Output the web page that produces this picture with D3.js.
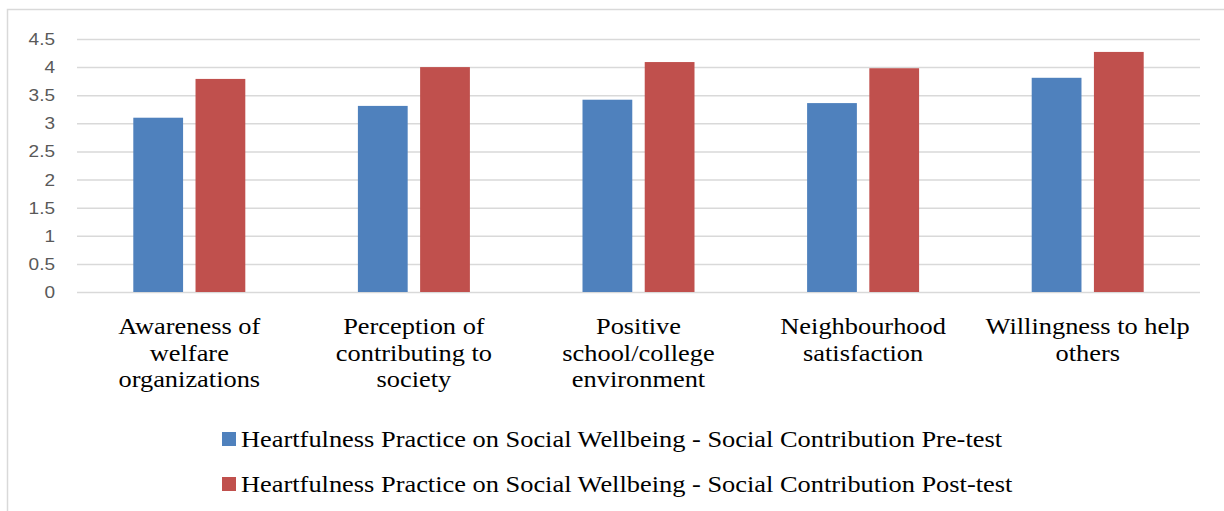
<!DOCTYPE html>
<html>
<head>
<meta charset="utf-8">
<script src="https://cdn.jsdelivr.net/npm/d3@7"></script>
<style>
  html, body { margin: 0; padding: 0; background: #fff; }
  svg { display: block; }
</style>
</head>
<body>
<svg id="chart" width="1224" height="511"></svg>
<script>
// categories, drawn as wrapped tick labels
const categories = [
  "Awareness of welfare organizations",
  "Perception of contributing to society",
  "Positive school/college environment",
  "Neighbourhood satisfaction",
  "Willingness to help others",
];
const categoryLines = [
  ["Awareness of", "welfare", "organizations"],
  ["Perception of", "contributing to", "society"],
  ["Positive", "school/college", "environment"],
  ["Neighbourhood", "satisfaction"],
  ["Willingness to help", "others"],
];
const seriesNames = [
  "Heartfulness Practice on Social Wellbeing - Social Contribution Pre-test",
  "Heartfulness Practice on Social Wellbeing - Social Contribution Post-test",
];
const preTest = [3.10, 3.31, 3.42, 3.36, 3.81];
const postTest = [3.79, 4.00, 4.09, 3.98, 4.27];
const yTicks = [0, 0.5, 1, 1.5, 2, 2.5, 3, 3.5, 4, 4.5];
const colors = ["#4F81BD", "#C0504D"];

const SERIF = "Liberation Serif";
const SANS = "Liberation Sans";
// the source picture is a bit wider than tall, so text gets stretched sideways
const SX = 1.1;

const svg = d3.select("#chart");

// outer chart frame (cut off on right and bottom, like the original)
svg.append("rect")
  .attr("x", 7.5).attr("y", 9.5)
  .attr("width", 1300).attr("height", 600)
  .attr("fill", "none")
  .attr("stroke", "#d9d9d9")
  .attr("stroke-width", 1.5);

const plot = { left: 77, right: 1200, top: 39, bottom: 292 };

const x0 = d3.scaleBand()
  .domain(categories)
  .range([plot.left, plot.right])
  .paddingInner(0)
  .paddingOuter(0);

const groupWidth = 112;
const x1 = d3.scaleBand()
  .domain([0, 1])
  .range([(x0.bandwidth() - groupWidth) / 2, (x0.bandwidth() + groupWidth) / 2])
  .paddingInner(0.2);

const y = d3.scaleLinear().domain([0, 4.5]).range([plot.bottom, plot.top]);

// gridlines + y labels
const yAxis = d3.axisLeft(y)
  .tickValues(yTicks)
  .tickSize(-(plot.right - plot.left))
  .tickFormat(d3.format("~g"));

const yG = svg.append("g")
  .attr("transform", `translate(${plot.left},0)`)
  .call(yAxis);
yG.select(".domain").remove();
yG.selectAll(".tick line")
  .attr("stroke", "#d9d9d9")
  .attr("stroke-width", 1.5);
yG.selectAll(".tick text")
  .attr("x", -22 / 1.12)
  .attr("transform", "scale(1.12,1)")
  .attr("fill", "#595959")
  .attr("font-family", SANS)
  .attr("font-size", 17);

// bars
const rows = categories.map((c, i) => ({ cat: c, vals: [preTest[i], postTest[i]] }));
const groups = svg.append("g")
  .selectAll("g")
  .data(rows)
  .join("g")
  .attr("transform", (d) => `translate(${x0(d.cat)},0)`);

groups.selectAll("rect")
  .data((d) => d.vals.map((v, s) => ({ s, v })))
  .join("rect")
  .attr("x", (d) => x1(d.s))
  .attr("width", x1.bandwidth())
  .attr("y", (d) => y(d.v))
  .attr("height", (d) => y(0) - y(d.v))
  .attr("fill", (d) => colors[d.s]);

// category labels, one text per line
const labelG = svg.append("g");

categories.forEach((c, i) => {
  const cx = x0(c) + x0.bandwidth() / 2;
  categoryLines[i].forEach((line, j) => {
    labelG.append("text")
      .attr("transform", `translate(${cx},${334 + j * 26.5}) scale(${SX},1)`)
      .attr("text-anchor", "middle")
      .attr("font-family", SERIF)
      .attr("font-size", 24)
      .attr("fill", "#000")
      .text(line);
  });
});

// legend
const legend = svg.append("g");

seriesNames.forEach((name, i) => {
  const yy = 432 + i * 45;
  legend.append("rect")
    .attr("x", 222).attr("y", yy)
    .attr("width", 14).attr("height", 14)
    .attr("fill", colors[i]);
  legend.append("text")
    .attr("transform", `translate(241,${yy + 15}) scale(${SX},1)`)
    .attr("font-family", SERIF)
    .attr("font-size", 24)
    .attr("fill", "#000")
    .text(name);
});
</script>
</body>
</html>
